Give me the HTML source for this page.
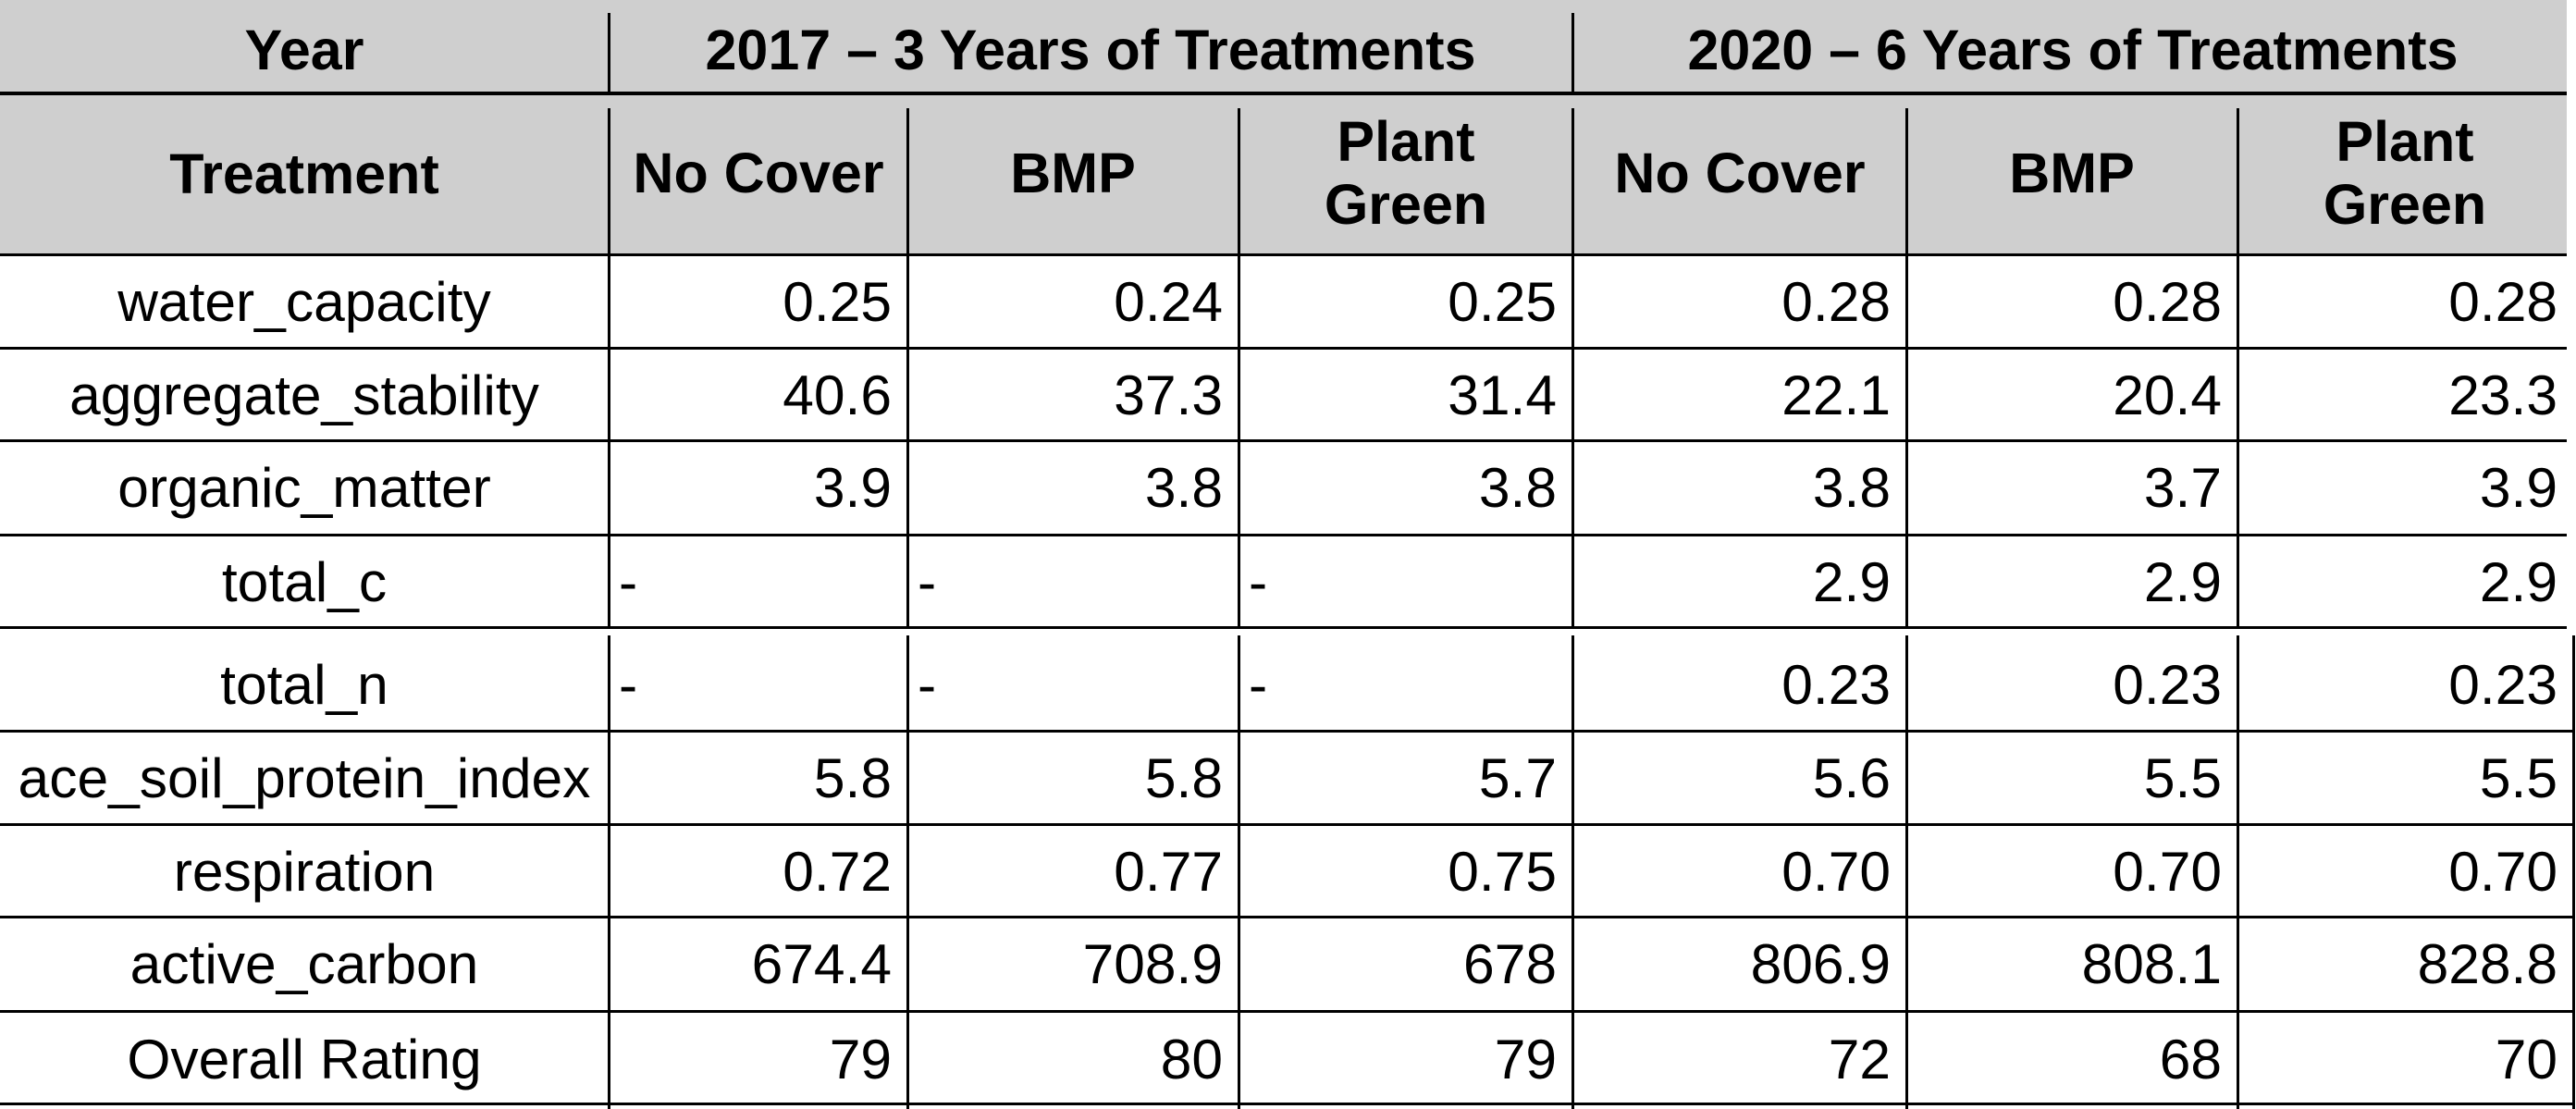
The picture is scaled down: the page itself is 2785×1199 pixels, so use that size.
<!DOCTYPE html>
<html>
<head>
<meta charset="utf-8">
<style>
html,body{margin:0;padding:0;background:#fff;}
body{width:2785px;height:1199px;position:relative;overflow:hidden;font-family:"Liberation Sans",Arial,sans-serif;color:#000;}
.g{position:absolute;left:0;top:0;width:2775px;height:275px;background:#cfcfcf;}
.h{position:absolute;height:3px;background:#000;}
.v{position:absolute;width:3px;background:#000;}
.t{position:absolute;white-space:nowrap;line-height:1;}
.b{font-weight:bold;font-size:61px;}
.r{font-size:60.5px;}
.c{width:1000px;text-align:center;}
</style>
</head>
<body>
<div class="g"></div>

<!-- horizontal lines -->
<div class="h" style="left:0;top:99px;width:2775px;height:4px;"></div>
<div class="h" style="left:0;top:274px;width:2775px;"></div>
<div class="h" style="left:0;top:375px;width:2775px;"></div>
<div class="h" style="left:0;top:475px;width:2775px;"></div>
<div class="h" style="left:0;top:577px;width:2775px;"></div>
<div class="h" style="left:0;top:677px;width:2775px;"></div>
<div class="h" style="left:0;top:789px;width:2784px;"></div>
<div class="h" style="left:0;top:890px;width:2784px;"></div>
<div class="h" style="left:0;top:990px;width:2784px;"></div>
<div class="h" style="left:0;top:1092px;width:2784px;"></div>
<div class="h" style="left:0;top:1192px;width:2784px;"></div>

<!-- vertical lines header row 1 -->
<div class="v" style="left:657px;top:14px;height:86px;"></div>
<div class="v" style="left:1699px;top:14px;height:86px;"></div>
<!-- vertical lines upper body -->
<div class="v" style="left:657px;top:117px;height:562px;"></div>
<div class="v" style="left:980px;top:117px;height:562px;"></div>
<div class="v" style="left:1338px;top:117px;height:562px;"></div>
<div class="v" style="left:1699px;top:117px;height:562px;"></div>
<div class="v" style="left:2060px;top:117px;height:562px;"></div>
<div class="v" style="left:2418px;top:117px;height:562px;"></div>
<!-- vertical lines lower body -->
<div class="v" style="left:657px;top:687px;height:512px;"></div>
<div class="v" style="left:980px;top:687px;height:512px;"></div>
<div class="v" style="left:1338px;top:687px;height:512px;"></div>
<div class="v" style="left:1699px;top:687px;height:512px;"></div>
<div class="v" style="left:2060px;top:687px;height:512px;"></div>
<div class="v" style="left:2418px;top:687px;height:512px;"></div>
<div class="v" style="left:2781px;top:687px;height:512px;"></div>

<!-- header text -->
<div class="t b c" style="left:-171px;top:24px;">Year</div>
<div class="t b c" style="left:679px;top:24px;">2017 – 3 Years of Treatments</div>
<div class="t b c" style="left:1741px;top:24px;">2020 – 6 Years of Treatments</div>

<div class="t b c" style="left:-171px;top:158px;">Treatment</div>
<div class="t b c" style="left:320px;top:157px;">No Cover</div>
<div class="t b c" style="left:660px;top:157px;">BMP</div>
<div class="t b c" style="left:1020px;top:123px;">Plant</div>
<div class="t b c" style="left:1020px;top:191px;">Green</div>
<div class="t b c" style="left:1381px;top:157px;">No Cover</div>
<div class="t b c" style="left:1740px;top:157px;">BMP</div>
<div class="t b c" style="left:2100px;top:123px;">Plant</div>
<div class="t b c" style="left:2100px;top:191px;">Green</div>

<!-- row labels (baseline - 51) -->
<div class="t r c" style="left:-171px;top:296px;">water_capacity</div>
<div class="t r c" style="left:-171px;top:397px;">aggregate_stability</div>
<div class="t r c" style="left:-171px;top:497px;">organic_matter</div>
<div class="t r c" style="left:-171px;top:599px;">total_c</div>
<div class="t r c" style="left:-171px;top:710px;">total_n</div>
<div class="t r c" style="left:-171px;top:811px;">ace_soil_protein_index</div>
<div class="t r c" style="left:-171px;top:912px;">respiration</div>
<div class="t r c" style="left:-171px;top:1012px;">active_carbon</div>
<div class="t r c" style="left:-171px;top:1115px;">Overall Rating</div>

<!-- Row 1 water_capacity -->
<div class="t r" style="right:1821px;top:296px;">0.25</div>
<div class="t r" style="right:1463px;top:296px;">0.24</div>
<div class="t r" style="right:1102px;top:296px;">0.25</div>
<div class="t r" style="right:741px;top:296px;">0.28</div>
<div class="t r" style="right:383px;top:296px;">0.28</div>
<div class="t r" style="right:20px;top:296px;">0.28</div>

<!-- Row 2 aggregate_stability -->
<div class="t r" style="right:1821px;top:397px;">40.6</div>
<div class="t r" style="right:1463px;top:397px;">37.3</div>
<div class="t r" style="right:1102px;top:397px;">31.4</div>
<div class="t r" style="right:741px;top:397px;">22.1</div>
<div class="t r" style="right:383px;top:397px;">20.4</div>
<div class="t r" style="right:20px;top:397px;">23.3</div>

<!-- Row 3 organic_matter -->
<div class="t r" style="right:1821px;top:497px;">3.9</div>
<div class="t r" style="right:1463px;top:497px;">3.8</div>
<div class="t r" style="right:1102px;top:497px;">3.8</div>
<div class="t r" style="right:741px;top:497px;">3.8</div>
<div class="t r" style="right:383px;top:497px;">3.7</div>
<div class="t r" style="right:20px;top:497px;">3.9</div>

<!-- Row 4 total_c -->
<div class="t r" style="left:669px;top:599px;">-</div>
<div class="t r" style="left:992px;top:599px;">-</div>
<div class="t r" style="left:1350px;top:599px;">-</div>
<div class="t r" style="right:741px;top:599px;">2.9</div>
<div class="t r" style="right:383px;top:599px;">2.9</div>
<div class="t r" style="right:20px;top:599px;">2.9</div>

<!-- Row 5 total_n -->
<div class="t r" style="left:669px;top:710px;">-</div>
<div class="t r" style="left:992px;top:710px;">-</div>
<div class="t r" style="left:1350px;top:710px;">-</div>
<div class="t r" style="right:741px;top:710px;">0.23</div>
<div class="t r" style="right:383px;top:710px;">0.23</div>
<div class="t r" style="right:20px;top:710px;">0.23</div>

<!-- Row 6 ace_soil_protein_index -->
<div class="t r" style="right:1821px;top:811px;">5.8</div>
<div class="t r" style="right:1463px;top:811px;">5.8</div>
<div class="t r" style="right:1102px;top:811px;">5.7</div>
<div class="t r" style="right:741px;top:811px;">5.6</div>
<div class="t r" style="right:383px;top:811px;">5.5</div>
<div class="t r" style="right:20px;top:811px;">5.5</div>

<!-- Row 7 respiration -->
<div class="t r" style="right:1821px;top:912px;">0.72</div>
<div class="t r" style="right:1463px;top:912px;">0.77</div>
<div class="t r" style="right:1102px;top:912px;">0.75</div>
<div class="t r" style="right:741px;top:912px;">0.70</div>
<div class="t r" style="right:383px;top:912px;">0.70</div>
<div class="t r" style="right:20px;top:912px;">0.70</div>

<!-- Row 8 active_carbon -->
<div class="t r" style="right:1821px;top:1012px;">674.4</div>
<div class="t r" style="right:1463px;top:1012px;">708.9</div>
<div class="t r" style="right:1102px;top:1012px;">678</div>
<div class="t r" style="right:741px;top:1012px;">806.9</div>
<div class="t r" style="right:383px;top:1012px;">808.1</div>
<div class="t r" style="right:20px;top:1012px;">828.8</div>

<!-- Row 9 Overall Rating -->
<div class="t r" style="right:1821px;top:1115px;">79</div>
<div class="t r" style="right:1463px;top:1115px;">80</div>
<div class="t r" style="right:1102px;top:1115px;">79</div>
<div class="t r" style="right:741px;top:1115px;">72</div>
<div class="t r" style="right:383px;top:1115px;">68</div>
<div class="t r" style="right:20px;top:1115px;">70</div>
</body>
</html>
